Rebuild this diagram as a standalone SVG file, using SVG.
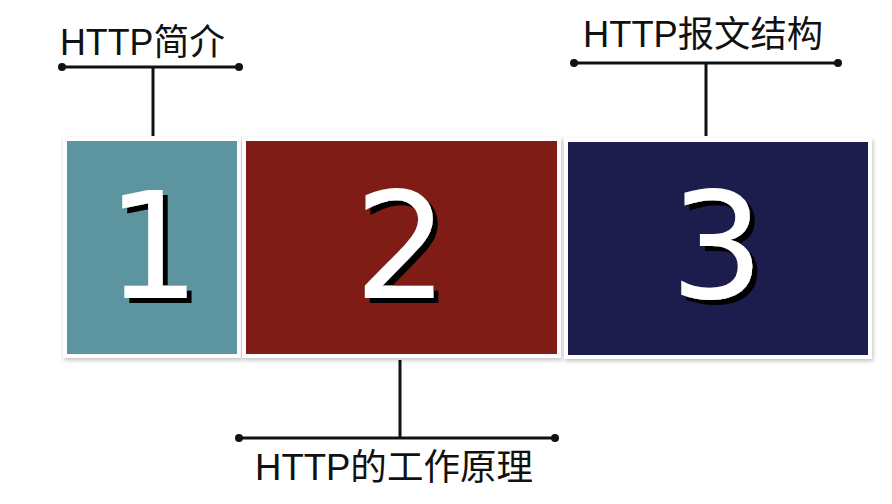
<svg xmlns="http://www.w3.org/2000/svg" width="892" height="504" viewBox="0 0 892 504">
<defs>
<filter id="sh" x="-10%" y="-10%" width="120%" height="120%"><feDropShadow dx="1" dy="2" stdDeviation="2" flood-color="#000" flood-opacity="0.25"/></filter>
<filter id="ts" x="-20%" y="-20%" width="140%" height="140%"><feDropShadow dx="5" dy="5" stdDeviation="0.6" flood-color="#000" flood-opacity="1"/></filter>
<style>
.box{stroke:#fff;stroke-width:4;filter:url(#sh)}
.num{font-family:"DejaVu Sans",sans-serif;font-size:148px;text-anchor:middle;fill:#fff;filter:url(#ts)}
.lbl{font-family:"Liberation Sans","Noto Sans CJK SC",sans-serif;font-size:36px;fill:#111}
.ln{stroke:#111;stroke-width:3;fill:none}
.dot{fill:#111}
</style>
</defs>
<rect width="892" height="504" fill="#fff"/>
<g id="node1">
<rect class="box" x="65" y="139" width="174" height="217" fill="#5c95a0"/>
<text class="num" x="153" y="298">1</text>
</g>
<g id="node2">
<rect class="box" x="244" y="139" width="315" height="217" fill="#7f1a13"/>
<text class="num" x="401" y="298">2</text>
</g>
<g id="node3">
<rect class="box" x="566" y="140" width="304" height="217" fill="#1c1b4d"/>
<text class="num" x="717" y="298">3</text>
</g>
<g id="label1">
<text class="lbl" x="60" y="55" textLength="165" lengthAdjust="spacingAndGlyphs">HTTP简介</text>
</g>
<g id="label2">
<text class="lbl" x="255" y="480" textLength="278" lengthAdjust="spacingAndGlyphs">HTTP的工作原理</text>
</g>
<g id="label3">
<text class="lbl" x="583" y="47" textLength="240" lengthAdjust="spacingAndGlyphs">HTTP报文结构</text>
</g>
<g id="connectors">
<path class="ln" d="M62 67H239M153 67V136"/>
<circle class="dot" cx="62" cy="67" r="4"/><circle class="dot" cx="239" cy="67" r="4"/>
<path class="ln" d="M574 63H838M706 63V136"/>
<circle class="dot" cx="574" cy="63" r="4"/><circle class="dot" cx="838" cy="63" r="4"/>
<path class="ln" d="M239 438H555M400 360V438"/>
<circle class="dot" cx="239" cy="438" r="4"/><circle class="dot" cx="555" cy="438" r="4"/>
</g>
</svg>
